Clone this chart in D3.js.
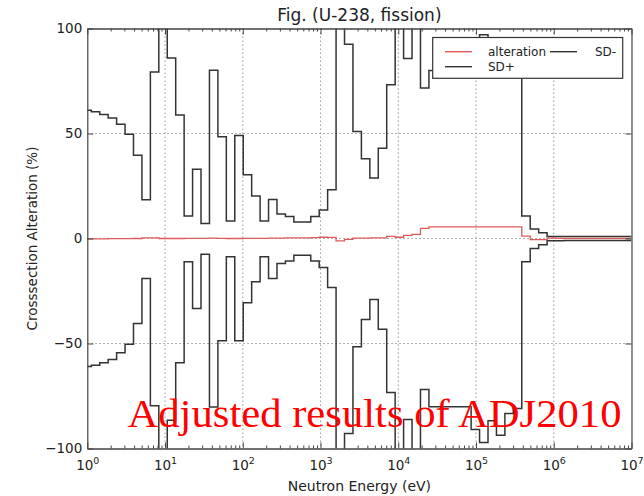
<!DOCTYPE html>
<html>
<head>
<meta charset="utf-8">
<script src="https://cdn.jsdelivr.net/npm/d3@7"></script>
<style>
  html, body { margin: 0; padding: 0; background: #fff; }
  svg { display: block; }
  text { font-family: "DejaVu Sans", sans-serif; fill: #222; }
  text.note { font-family: "Liberation Serif", "Times New Roman", serif; fill: #ff0000; }
</style>
</head>
<body>
<svg id="chart" width="644" height="496"></svg>
<script>
// Energy group structure: equal lethargy width below 10 MeV
const LETHARGY_WIDTH = 0.25;
const E_TOP = 1e7;
const N_GROUPS = 65;
const groupBounds = d3.range(N_GROUPS + 1)
  .map(i => E_TOP * Math.exp(-LETHARGY_WIDTH * (N_GROUPS - i)));

// Values per group, lowest energy first (%)
const sdPlus = [
  61.1, 60.3, 59.0, 57.4, 54.4, 49.7, 39.7, 18.4, 79.3, 140,
  85.9, 58.8, 10.7, 33.0, 7.2, 80.1, 48.5, 8.3, 49.0, 30.4,
  20.2, 8.3, 18.6, 11.7, 10.5, 7.8, 7.8, 10.5, 13.6, 23.2,
  140, 92.5, 51.0, 38.0, 28.8, 43.0, 73.2, 140, 85.7, 140,
  71.7, 80.0, 80.0, 80.0, 80.0, 80.0, 91.0, 97.0, 86.8, 93.7,
  83.3, 81.0, 10.7, 4.5, 2.7, 1.0, 1.0, 0.9, 0.9, 0.9,
  0.9, 0.9, 0.9, 0.9, 0.9
];
const sdMinus = [
  -60.9, -60.3, -59.2, -57.6, -54.4, -50.3, -40.5, -19.0, -79.7, -140,
  -86.5, -59.2, -11.1, -33.3, -7.5, -80.2, -48.7, -8.7, -48.7, -30.6,
  -20.6, -8.7, -19.0, -11.9, -10.7, -8.0, -8.0, -10.7, -13.8, -23.3,
  -140, -92.9, -51.6, -38.6, -29.0, -43.2, -73.3, -140, -86.2, -140,
  -71.9, -80.1, -80.1, -80.1, -80.1, -80.1, -91.0, -97.1, -86.8, -93.7,
  -83.3, -81.0, -11.1, -4.8, -3.0, -1.1, -1.1, -1.0, -1.0, -1.0,
  -1.0, -1.0, -1.0, -1.0, -1.0
];
const alteration = [
  -0.2, -0.2, -0.2, -0.1, -0.1, -0.1, 0.0, 0.3, 0.3, 0.0,
  0.0, 0.0, 0.1, 0.1, 0.1, 0.2, 0.1, 0.0, 0.0, 0.1,
  0.1, 0.1, 0.2, 0.2, 0.3, 0.3, 0.3, 0.4, 0.6, 0.5,
  -1.1, -0.4, 0.2, 0.2, 0.3, 0.3, 1.0, 0.6, 1.5, 2.0,
  4.8, 5.5, 5.5, 5.5, 5.5, 5.5, 5.5, 5.5, 5.5, 5.5,
  5.5, 5.5, 1.1, -0.5, -0.5, 0.2, 0.1, 0.1, 0.1, 0.1,
  0.1, 0.1, 0.1, 0.1, 0.1
];

// Axis ticks and labels
const xDecades = [0, 1, 2, 3, 4, 5, 6, 7];
const yTicks = [-100, -50, 0, 50, 100];
const titleText = "Fig. (U-238, fission)";
const xLabel = "Neutron Energy (eV)";
const yLabel = "Crosssection Alteration (%)";
const legendItems = [
  { name: "alteration", color: "#e05a5a" },
  { name: "SD+", color: "#333" },
  { name: "SD-", color: "#333" }
];
const noteText = "Adjusted results of ADJ2010";

const svg = d3.select("#chart");
const margin = { left: 87.3, right: 644 - 631.5, top: 28.5, bottom: 496 - 448.5 };
const W = 644 - margin.left - margin.right;
const H = 496 - margin.top - margin.bottom;

const x = d3.scaleLog().domain([1, 1e7]).range([0, W]);
const y = d3.scaleLinear().domain([-100, 100]).range([H, 0]);

const g = svg.append("g").attr("transform", `translate(${margin.left},${margin.top})`);

svg.append("defs").append("clipPath").attr("id", "plotClip")
  .append("rect").attr("width", W).attr("height", H);

// dotted grid
const grid = g.append("g").attr("stroke", "#9a9a9a").attr("stroke-width", 1)
  .attr("stroke-dasharray", "1.5,2.5");
xDecades.slice(1, -1).forEach(d => {
  grid.append("line").attr("x1", x(Math.pow(10, d))).attr("x2", x(Math.pow(10, d)))
    .attr("y1", 0).attr("y2", H);
});
yTicks.slice(1, -1).forEach(v => {
  grid.append("line").attr("x1", 0).attr("x2", W).attr("y1", y(v)).attr("y2", y(v));
});

// step curves
const stepLine = d3.line()
  .x(d => x(d[0]))
  .y(d => y(d[1]))
  .curve(d3.curveStepAfter);
function stepPoints(vals) {
  const pts = vals.map((v, i) => [groupBounds[i], v]);
  pts.push([groupBounds[vals.length], vals[vals.length - 1]]);
  return pts;
}
const plot = g.append("g").attr("clip-path", "url(#plotClip)");
plot.append("path").datum(stepPoints(sdPlus)).attr("d", stepLine)
  .attr("fill", "none").attr("stroke", "#333").attr("stroke-width", 1.5);
plot.append("path").datum(stepPoints(sdMinus)).attr("d", stepLine)
  .attr("fill", "none").attr("stroke", "#333").attr("stroke-width", 1.5);
plot.append("path").datum(stepPoints(alteration)).attr("d", stepLine)
  .attr("fill", "none").attr("stroke", "#e05a5a").attr("stroke-width", 1.3);

// axes
const majorX = xDecades.map(d => Math.pow(10, d));
const minorX = [];
xDecades.slice(0, -1).forEach(d => {
  for (let m = 2; m <= 9; m++) minorX.push(m * Math.pow(10, d));
});
function styleAxis(sel) {
  sel.selectAll(".domain").attr("stroke", "#444").attr("stroke-width", 1.2);
  sel.selectAll(".tick line").attr("stroke", "#444").attr("stroke-width", 1);
}

const xAxis = g.append("g").attr("transform", `translate(0,${H})`)
  .call(d3.axisBottom(x).tickValues(majorX).tickSizeInner(-6).tickSizeOuter(0).tickPadding(10)
    .tickFormat(() => ""));
xAxis.call(styleAxis);
xAxis.selectAll(".tick text").each(function(d) {
  const t = d3.select(this)
    .attr("font-size", 13.5).attr("dy", null).attr("y", 21.5).attr("fill", "#222");
  t.append("tspan").text("10");
  t.append("tspan").attr("dy", -6).attr("font-size", 9.5).text(Math.round(Math.log10(d)));
});
g.append("g").attr("transform", `translate(0,${H})`)
  .call(d3.axisBottom(x).tickValues(minorX).tickSizeInner(-3).tickSizeOuter(0).tickFormat(""))
  .call(styleAxis);
g.append("g")
  .call(d3.axisTop(x).tickValues(majorX).tickSizeInner(-6).tickSizeOuter(0).tickFormat(""))
  .call(styleAxis);
g.append("g")
  .call(d3.axisTop(x).tickValues(minorX).tickSizeInner(-3).tickSizeOuter(0).tickFormat(""))
  .call(styleAxis);

const yAxis = g.append("g")
  .call(d3.axisLeft(y).tickValues(yTicks).tickSizeInner(-6).tickSizeOuter(0).tickPadding(5)
    .tickFormat(v => v < 0 ? "\u2212" + Math.abs(v) : String(v)));
yAxis.call(styleAxis);
yAxis.selectAll(".tick text").attr("font-size", 13.5).attr("fill", "#222");
g.append("g").attr("transform", `translate(${W},0)`)
  .call(d3.axisRight(y).tickValues(yTicks).tickSizeInner(-6).tickSizeOuter(0).tickFormat(""))
  .call(styleAxis);

// titles
svg.append("text").attr("x", margin.left + W / 2).attr("y", 21)
  .attr("text-anchor", "middle").attr("font-size", 17).text(titleText);
svg.append("text").attr("x", margin.left + W / 2).attr("y", 491)
  .attr("text-anchor", "middle").attr("font-size", 14).text(xLabel);
svg.append("text").attr("transform", `translate(37,${margin.top + H / 2}) rotate(-90)`)
  .attr("text-anchor", "middle").attr("font-size", 13.5).text(yLabel);

// legend (two columns, filled column-first)
const legend = svg.append("g");
legend.append("rect").attr("x", 432.7).attr("y", 37.5).attr("width", 190).attr("height", 40.8)
  .attr("fill", "#fff").attr("stroke", "#333").attr("stroke-width", 1.2);
const slots = [
  { lx: 445, ty: 51.7 },
  { lx: 445, ty: 66.7 },
  { lx: 550, ty: 51.7 }
];
legendItems.forEach((item, i) => {
  const s = slots[i];
  legend.append("line").attr("x1", s.lx).attr("x2", s.lx + 27).attr("y1", s.ty).attr("y2", s.ty)
    .attr("stroke", item.color).attr("stroke-width", 1.4);
  legend.append("text").attr("x", i < 2 ? 488 : 595).attr("y", s.ty + 4.5)
    .attr("font-size", 12).text(item.name);
});

// annotation
svg.append("text").attr("class", "note").attr("x", 127.5).attr("y", 427)
  .attr("font-size", 41).attr("textLength", 494).attr("lengthAdjust", "spacingAndGlyphs")
  .text(noteText);
</script>
</body>
</html>
